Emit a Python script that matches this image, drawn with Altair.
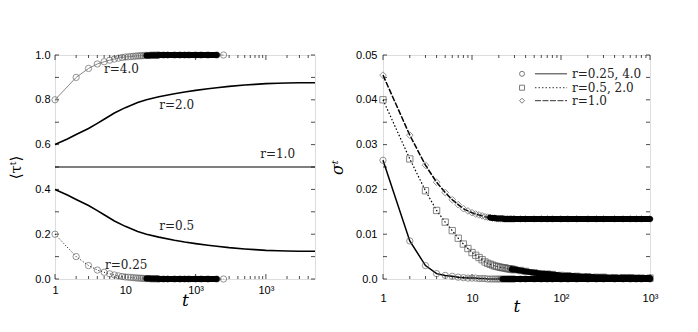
import altair as alt
import pandas as pd

# ---------------- left panel data ----------------
L_T = list(range(1, 31)) + [35, 40, 50, 60, 70, 80, 100, 120, 150, 200, 250]
L_R4 = [0.800, 0.900, 0.940, 0.960, 0.970, 0.977, 0.982, 0.986, 0.989, 0.991,
        0.992, 0.993, 0.994, 0.995, 0.996, 0.996, 0.997, 0.997, 0.998, 0.998,
        0.998, 0.998, 0.999, 0.999, 0.999, 0.999, 0.999, 0.999, 0.999, 1.000,
        1.000, 1.000, 1.000, 1.000, 1.000, 1.000, 1.000, 1.000, 1.000, 1.000, 1.000]
L_R025 = [0.200, 0.100, 0.060, 0.040, 0.030, 0.023, 0.018, 0.014, 0.011, 0.009,
          0.008, 0.007, 0.006, 0.005, 0.004, 0.004, 0.003, 0.003, 0.002, 0.002,
          0.002, 0.002, 0.001, 0.001, 0.001, 0.001, 0.001, 0.001, 0.001, 0.000,
          0.000, 0.000, 0.000, 0.000, 0.000, 0.000, 0.000, 0.000, 0.000, 0.000, 0.000]
L_CURVE_T = [1, 1.5, 2, 3, 4, 5, 7, 10, 15, 20, 30, 50, 70, 100, 150, 200, 300,
             500, 700, 1000, 1500, 2000, 3000, 5000]
L_R2 = [0.600, 0.625, 0.645, 0.672, 0.695, 0.713, 0.741, 0.765, 0.788, 0.800,
        0.814, 0.827, 0.835, 0.842, 0.849, 0.854, 0.860, 0.866, 0.869, 0.872,
        0.874, 0.875, 0.876, 0.876]
L_R05 = [0.400, 0.375, 0.355, 0.328, 0.305, 0.287, 0.259, 0.235, 0.212, 0.200,
         0.187, 0.173, 0.165, 0.158, 0.151, 0.146, 0.140, 0.134, 0.131, 0.128,
         0.126, 0.125, 0.124, 0.124]
L_R1_T = [1, 5000]
L_R1 = [0.5, 0.5]
L_LAB_TEXT = ["r=4.0", "r=2.0", "r=1.0", "r=0.5", "r=0.25"]
L_LAB_T = [8.8, 54, 1470, 54, 10.3]
L_LAB_V = [0.937, 0.775, 0.557, 0.235, 0.063]

L_XMAJOR = [1, 10, 100, 1000]
L_XMINOR = [2, 3, 4, 5, 6, 7, 8, 9, 20, 30, 40, 50, 60, 70, 80, 90,
            200, 300, 400, 500, 600, 700, 800, 900, 2000, 3000, 4000]
L_XLABELS = "datum.value == 1 ? '1' : datum.value == 10 ? '10' : datum.value == 100 ? '10³' : datum.value == 1000 ? '10³' : ''"
L_YTICKS = [0, 0.1, 0.2, 0.3, 0.4, 0.5, 0.6, 0.7, 0.8, 0.9, 1.0]
L_YLABELED = [0, 0.2, 0.4, 0.6, 0.8, 1.0]

# ---------------- right panel data ----------------
R_T = list(range(1, 31)) + [35, 40, 50, 60, 70, 80, 100, 120, 150, 200, 250, 300,
                            400, 500, 600, 700, 800, 1000]
R_CIRC = [0.0265, 0.0085, 0.0030, 0.0012, 0.0008, 0.0006, 0.0004, 0.0003, 0.0002, 0.0002,
          0.0002, 0.0001, 0.0001, 0.0001, 0.0, 0.0, 0.0, 0.0, 0.0, 0.0,
          0.0, 0.0, 0.0, 0.0, 0.0, 0.0, 0.0, 0.0, 0.0, 0.0,
          0.0, 0.0, 0.0, 0.0, 0.0, 0.0, 0.0, 0.0, 0.0, 0.0, 0.0, 0.0,
          0.0, 0.0, 0.0, 0.0, 0.0, 0.0]
R_SQ = [0.0400, 0.0268, 0.0197, 0.0153, 0.0127, 0.0108, 0.0091, 0.0078, 0.0068, 0.0059,
        0.0053, 0.0048, 0.0043, 0.0038, 0.0035, 0.0033, 0.0031, 0.0029, 0.0028, 0.0027,
        0.0026, 0.0025, 0.0025, 0.0024, 0.0023, 0.0023, 0.0022, 0.0022, 0.0021, 0.0021,
        0.0019, 0.0017, 0.0014, 0.0012, 0.0011, 0.0010, 0.0008, 0.0007, 0.0006, 0.0005,
        0.0004, 0.0004, 0.0003, 0.0003, 0.0003, 0.0002, 0.0002, 0.0002]
R_DIA = [0.0455, 0.0321, 0.0254, 0.0216, 0.0193, 0.0177, 0.0166, 0.0157, 0.0152, 0.0148,
         0.0145, 0.0143, 0.0141, 0.0139, 0.0138, 0.0137, 0.0136, 0.0136, 0.0135, 0.0135,
         0.0135, 0.0135, 0.0134, 0.0134, 0.0134, 0.0134, 0.0134, 0.0134, 0.0134, 0.0134,
         0.0134, 0.0134, 0.0134, 0.0134, 0.0134, 0.0134, 0.0134, 0.0134, 0.0134, 0.0134,
         0.0134, 0.0134, 0.0134, 0.0134, 0.0134, 0.0134, 0.0134, 0.0134]
LEG_TEXT = ["r=0.25, 4.0", "r=0.5, 2.0", "r=1.0"]
LEG_V = [0.0458, 0.0427, 0.0398]
LEG_SYM_T = 36.5
LEG_LINE_T = [51, 117]
LEG_TEXT_T = 133

R_XMAJOR = [1, 10, 100, 1000]
R_XMINOR = [2, 3, 4, 5, 6, 7, 8, 9, 20, 30, 40, 50, 60, 70, 80, 90,
            200, 300, 400, 500, 600, 700, 800, 900]
R_XLABELS = "datum.value == 1 ? '1' : datum.value == 10 ? '10' : datum.value == 100 ? '10²' : datum.value == 1000 ? '10³' : ''"
R_YTICKS = [0, 0.005, 0.01, 0.015, 0.02, 0.025, 0.03, 0.035, 0.04, 0.045, 0.05]
R_YLABELED = [0, 0.01, 0.02, 0.03, 0.04, 0.05]
R_YLABELS = "datum.value == 0 ? '0.0' : format(datum.value, '.2f')"

SANS = "Liberation Sans"
SERIF = "DejaVu Serif"


def enc(xdom, ydom, xaxis=None, yaxis=None):
    return dict(
        x=alt.X("t:Q", scale=alt.Scale(type="log", domain=xdom, nice=False), axis=xaxis),
        y=alt.Y("v:Q", scale=alt.Scale(domain=ydom, nice=False, zero=False), axis=yaxis),
    )


def label_axis(orient, values, labelexpr, title, labelPadding, titlePadding,
               titleFontSize, titleStyle):
    return alt.Axis(orient=orient, values=values, labelExpr=labelexpr, ticks=False,
                    domain=False, grid=False, labelOverlap=False, labelFlush=False,
                    labelFont=SANS, labelFontSize=11, labelColor="black",
                    labelPadding=labelPadding, title=title, titleFont=SERIF,
                    titleFontSize=titleFontSize, titleFontWeight="normal",
                    titleFontStyle=titleStyle, titleColor="black", titlePadding=titlePadding)


def tick_layers(xdom, ydom, xmajor, xminor, yticks, w, h):
    xs = pd.DataFrame({"t": xmajor})
    xm = pd.DataFrame({"t": xminor})
    ys = pd.DataFrame({"v": yticks})
    xsc = alt.Scale(type="log", domain=xdom, nice=False)
    ysc = alt.Scale(domain=ydom, nice=False, zero=False)
    out = []
    for yy in (h - 2.5, 2.5):
        out.append(alt.Chart(xs).mark_tick(orient="vertical", size=5, thickness=1, color="black")
                   .encode(x=alt.X("t:Q", scale=xsc, axis=None), y=alt.value(yy)))
    for yy in (h - 1.5, 1.5):
        out.append(alt.Chart(xm).mark_tick(orient="vertical", size=3, thickness=1, color="black")
                   .encode(x=alt.X("t:Q", scale=xsc, axis=None), y=alt.value(yy)))
    for xx in (2, w - 2):
        out.append(alt.Chart(ys).mark_tick(orient="horizontal", size=4, thickness=1, color="black")
                   .encode(y=alt.Y("v:Q", scale=ysc, axis=None), x=alt.value(xx)))
    return out


def panel(xdom, ydom, xlabvals, xlabels, ylabvals, ylabels, ytitle, ytitle_size, ytitle_style,
          xlp, xtp, ylp, ytp, ticks, layers, w, h):
    host = pd.DataFrame({"t": [xdom[0], xdom[1]], "v": [ydom[0], ydom[1]]})
    bl = alt.Chart(host).mark_point(opacity=0, size=0).encode(**enc(
        xdom, ydom,
        label_axis("bottom", xlabvals, xlabels, "t", xlp, xtp, 17, "italic"),
        label_axis("left", ylabvals, ylabels, ytitle, ylp, ytp, ytitle_size, ytitle_style)))
    return alt.layer(bl, *ticks, *layers).resolve_axis(x="independent", y="independent") \
        .properties(width=w, height=h)


W_L, W_R, H = 260, 267, 224

# ---------------- left panel ----------------
LX, LY = [1, 5000], [0, 1]
dfL4 = pd.DataFrame({"t": L_T, "v": L_R4})
dfL025 = pd.DataFrame({"t": L_T, "v": L_R025})
dfL2 = pd.DataFrame({"t": L_CURVE_T, "v": L_R2})
dfL05 = pd.DataFrame({"t": L_CURVE_T, "v": L_R05})
dfL1 = pd.DataFrame({"t": L_R1_T, "v": L_R1})
dfLlab = pd.DataFrame({"t": L_LAB_T, "v": L_LAB_V, "txt": L_LAB_TEXT})

left_layers = [
    alt.Chart(dfL1).mark_line(color="black", strokeWidth=1.2).encode(**enc(LX, LY)),
    alt.Chart(dfL2).mark_line(color="black", strokeWidth=1.6).encode(**enc(LX, LY)),
    alt.Chart(dfL05).mark_line(color="black", strokeWidth=1.6).encode(**enc(LX, LY)),
    alt.Chart(dfL4).mark_line(color="#888", strokeWidth=1).encode(**enc(LX, LY)),
    alt.Chart(dfL025).mark_line(color="black", strokeWidth=1, strokeDash=[1, 2]).encode(**enc(LX, LY)),
    alt.Chart(dfL4).mark_point(shape="circle", filled=False, size=40, color="#666", strokeWidth=1).encode(**enc(LX, LY)),
    alt.Chart(dfL025).mark_point(shape="circle", filled=False, size=40, color="#666", strokeWidth=1).encode(**enc(LX, LY)),
    alt.Chart(dfL4).transform_filter("datum.t >= 20 && datum.t <= 240").mark_line(
        color="black", strokeWidth=6, strokeCap="round").encode(**enc(LX, LY)),
    alt.Chart(dfL025).transform_filter("datum.t >= 20 && datum.t <= 240").mark_line(
        color="black", strokeWidth=6, strokeCap="round").encode(**enc(LX, LY)),
    alt.Chart(dfLlab).mark_text(font=SERIF, fontSize=12, color="#222", align="center",
                                baseline="middle").encode(text="txt:N", **enc(LX, LY)),
]
left = panel(LX, LY, L_XMAJOR, L_XLABELS, L_YLABELED, "format(datum.value, '.1f')",
             "⟨τᵗ⟩", 15, "normal", 5, -3, 5, 11,
             tick_layers(LX, LY, L_XMAJOR, L_XMINOR, L_YTICKS, W_L, H),
             left_layers, W_L, H)

# ---------------- right panel ----------------
RX, RY = [1, 1000], [0, 0.05]
dfRC = pd.DataFrame({"t": R_T, "v": R_CIRC})
dfRS = pd.DataFrame({"t": R_T, "v": R_SQ})
dfRD = pd.DataFrame({"t": R_T, "v": R_DIA})

styles = [
    dict(shape="circle", dash=[1, 0]),
    dict(shape="square", dash=[1.5, 2]),
    dict(shape="diamond", dash=[6, 1.5]),
]

right_layers = [
    alt.Chart(dfRC).mark_line(color="black", strokeWidth=1.5).encode(**enc(RX, RY)),
    alt.Chart(dfRS).mark_line(color="black", strokeWidth=1.2, strokeDash=[1.5, 2]).encode(**enc(RX, RY)),
    alt.Chart(dfRD).mark_line(color="black", strokeWidth=1.5, strokeDash=[6, 1.5]).encode(**enc(RX, RY)),
    alt.Chart(dfRC).mark_point(shape="circle", filled=False, size=40, color="#666", strokeWidth=1).encode(**enc(RX, RY)),
    alt.Chart(dfRS).mark_point(shape="square", filled=False, size=40, color="#555", strokeWidth=1).encode(**enc(RX, RY)),
    alt.Chart(dfRD).mark_point(shape="diamond", filled=False, size=45, color="#666", strokeWidth=1).encode(**enc(RX, RY)),
    alt.Chart(dfRD).transform_filter("datum.t >= 16").mark_line(
        color="black", strokeWidth=6, strokeCap="round").encode(**enc(RX, RY)),
    alt.Chart(dfRS).transform_filter("datum.t >= 28").mark_line(
        color="black", strokeWidth=6, strokeCap="round").encode(**enc(RX, RY)),
    alt.Chart(dfRC).transform_filter("datum.t >= 22").mark_line(
        color="black", strokeWidth=6, strokeCap="round").encode(**enc(RX, RY)),
]
for i, st in enumerate(styles):
    dsym = pd.DataFrame({"t": [LEG_SYM_T], "v": [LEG_V[i]]})
    dline = pd.DataFrame({"t": [LEG_LINE_T[0]], "t2": [LEG_LINE_T[1]], "v": [LEG_V[i]]})
    dtxt = pd.DataFrame({"t": [LEG_TEXT_T], "v": [LEG_V[i]], "txt": [LEG_TEXT[i]]})
    right_layers.append(alt.Chart(dsym).mark_point(shape=st["shape"], filled=False, size=25,
                                                   color="#444", strokeWidth=1).encode(**enc(RX, RY)))
    right_layers.append(alt.Chart(dline).mark_rule(color="#333", strokeWidth=1,
                                                   strokeDash=st["dash"]).encode(x2="t2:Q", **enc(RX, RY)))
    right_layers.append(alt.Chart(dtxt).mark_text(font=SERIF, fontSize=12, color="#222", align="left",
                                                  baseline="middle").encode(text="txt:N", **enc(RX, RY)))

right = panel(RX, RY, R_XMAJOR, R_XLABELS, R_YLABELED, R_YLABELS,
              "σᵗ", 16, "italic", 13, -5, 6, 10,
              tick_layers(RX, RY, R_XMAJOR, R_XMINOR, R_YTICKS, W_R, H),
              right_layers, W_R, H)

chart = alt.hconcat(left, right, spacing=10).properties(
    padding={"left": 0, "top": 34, "right": 0, "bottom": 0}
).configure_view(stroke="black", strokeWidth=1).configure(background="white")

chart.save("out.html", embed_options={"renderer": "svg", "actions": False})
